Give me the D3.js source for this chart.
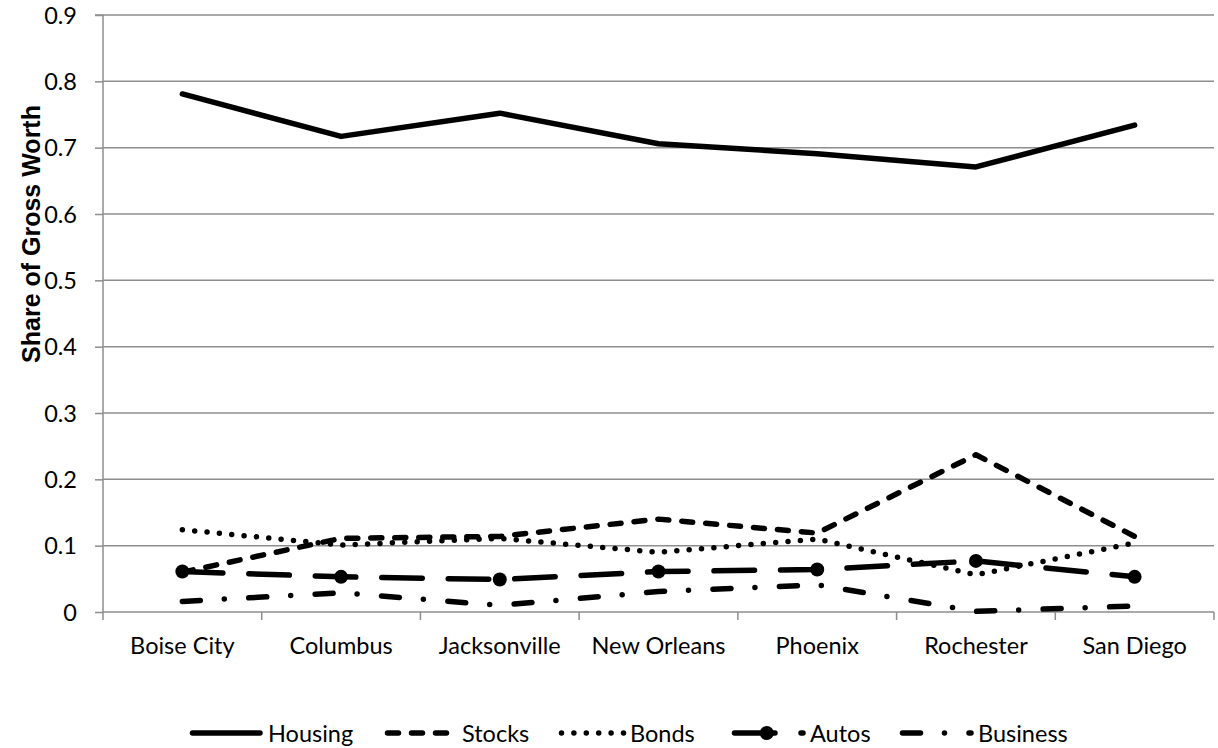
<!DOCTYPE html>
<html><head><meta charset="utf-8">
<script src="https://cdn.jsdelivr.net/npm/d3@7"></script>
<style>body{margin:0;background:#fff;overflow:hidden}</style>
</head><body><svg id="c" width="1218" height="748"></svg>
<script>
const categories = ["Boise City","Columbus","Jacksonville","New Orleans","Phoenix","Rochester","San Diego"];
const housing  = [0.781,0.717,0.752,0.706,0.691,0.671,0.734];
const stocks   = [0.060,0.111,0.114,0.140,0.119,0.237,0.114];
const bonds    = [0.124,0.101,0.111,0.090,0.110,0.056,0.104];
const autos    = [0.061,0.053,0.049,0.061,0.064,0.077,0.053];
const business = [0.016,0.029,0.010,0.031,0.041,0.001,0.009];
const seriesNames = ["Housing","Stocks","Bonds","Autos","Business"];
const yTickValues = [0,0.1,0.2,0.3,0.4,0.5,0.6,0.7,0.8,0.9];
const yTickLabels = ["0","0.1","0.2","0.3","0.4","0.5","0.6","0.7","0.8","0.9"];
const yTitle = "Share of Gross Worth";

const svg = d3.select("#c");
const L = 103, R = 1214, T = 15, B = 612;
const labelFont = "Lato, 'Open Sans', sans-serif";
const grid = "#8e8e8e";
const SW = 5.5;

const x = d3.scaleBand().domain(categories).range([L, R]);
const y = d3.scaleLinear().domain([0, 0.9]).range([B, T]);

// gridlines
svg.append("g").selectAll("line").data(yTickValues.filter(v => v > 0)).join("line")
  .attr("x1", L).attr("x2", R).attr("y1", d => y(d)).attr("y2", d => y(d))
  .attr("stroke", grid).attr("stroke-width", 1.5);

// y axis
const yAxis = d3.axisLeft(y).tickValues(yTickValues).tickSize(8).tickPadding(18)
  .tickFormat((d, i) => yTickLabels[i]);
const gy = svg.append("g").attr("transform", `translate(${L},0)`).call(yAxis);
gy.select(".domain").attr("stroke", grid).attr("stroke-width", 1.5).attr("d", `M-8,${T}H0V${B}`);
gy.selectAll(".tick line").attr("stroke", grid).attr("stroke-width", 1.5);
gy.selectAll(".tick text").attr("font-family", labelFont).attr("font-size", 23.5)
  .attr("fill", "#000").attr("x", -26).attr("dy", "0.34em");

// x axis
const xAxis = d3.axisBottom(x).tickSize(0).tickPadding(0);
const gx = svg.append("g").attr("transform", `translate(0,${B})`).call(xAxis);
gx.select(".domain").attr("stroke", grid).attr("stroke-width", 1.5).attr("d", `M${L},0H${R}`);
gx.selectAll(".tick text").attr("font-family", labelFont).attr("font-size", 23.5)
  .attr("fill", "#000").attr("y", 42).attr("dy", 0);
const bounds = categories.map(c => x(c)).concat([x(categories[categories.length-1]) + x.bandwidth()]);
gx.append("g").selectAll("line").data(bounds).join("line")
  .attr("x1", d => d).attr("x2", d => d).attr("y1", 0).attr("y2", 8)
  .attr("stroke", grid).attr("stroke-width", 1.5);

// y title
svg.append("text").attr("transform", "translate(40,234) rotate(-90)")
  .attr("text-anchor", "middle").attr("font-family", "'Liberation Sans', Arial, sans-serif")
  .attr("font-weight", "bold").attr("font-size", 25).attr("fill", "#000").text(yTitle);

const styles = [
  {dash: null},
  {dash: "11,13"},
  {dash: "0,12.4"},
  {dash: "40.5,26", marker: true},
  {dash: "18,24,0,24.5"}
];
const allSeries = [housing, stocks, bonds, autos, business];
const lineGen = d3.line().x((d, i) => x(categories[i]) + x.bandwidth()/2).y(d => y(d));

allSeries.forEach((vals, si) => {
  const st = styles[si];
  const p = svg.append("path").datum(vals).attr("d", lineGen)
    .attr("fill", "none").attr("stroke", "#000").attr("stroke-width", SW)
    .attr("stroke-linecap", "round").attr("stroke-linejoin", "round");
  if (st.dash) p.attr("stroke-dasharray", st.dash);
  if (st.marker) {
    svg.append("g").selectAll("circle").data(vals).join("circle")
      .attr("cx", (d, i) => x(categories[i]) + x.bandwidth()/2).attr("cy", d => y(d))
      .attr("r", 7).attr("fill", "#000");
  }
});

// legend
const legendLineStart = [192.5, 387.5, 561.5, 734.5, 902.5];
const legendLineEnd = [260, 455, 625, 803, 971];
const legendTextX = [268, 462, 630, 810, 978];
const ly = 733;
const lg = svg.append("g");
seriesNames.forEach((name, si) => {
  const st = styles[si];
  const ln = lg.append("line").attr("x1", legendLineStart[si]).attr("x2", legendLineEnd[si])
    .attr("y1", ly).attr("y2", ly).attr("stroke", "#000").attr("stroke-width", SW)
    .attr("stroke-linecap", "round");
  if (st.dash) ln.attr("stroke-dasharray", st.dash);
  if (st.marker) lg.append("circle").attr("cx", (legendLineStart[si] + legendLineEnd[si]) / 2 - 2)
    .attr("cy", ly).attr("r", 7).attr("fill", "#000");
  lg.append("text").attr("x", legendTextX[si]).attr("y", ly + 8.5)
    .attr("font-family", labelFont).attr("font-size", 23.5).attr("fill", "#000").text(name);
});
</script></body></html>
